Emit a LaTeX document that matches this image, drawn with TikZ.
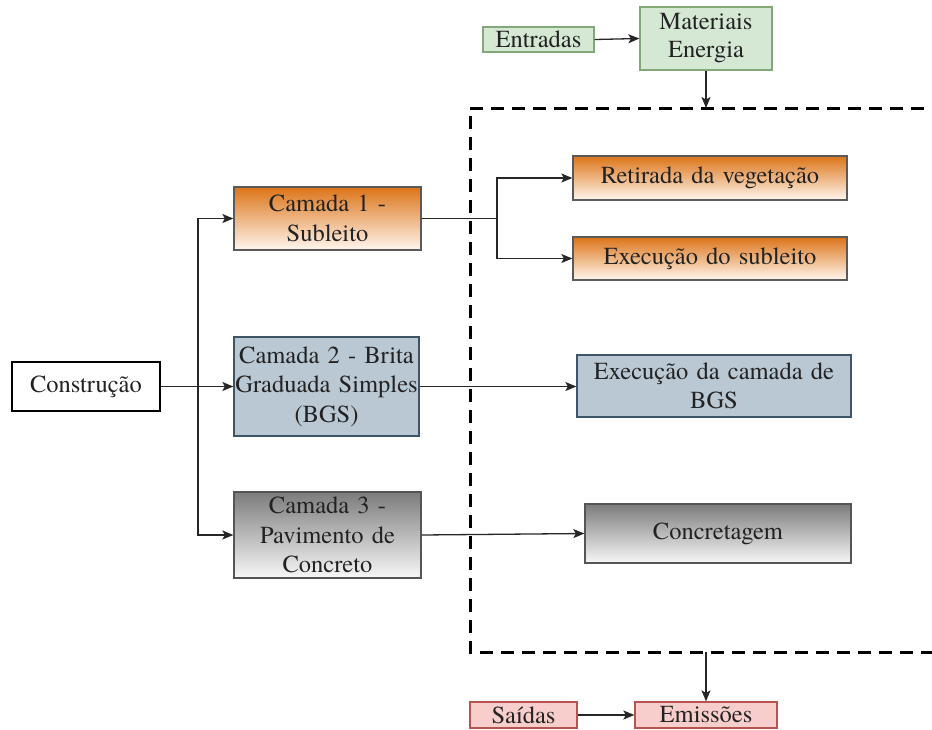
\documentclass[tikz,border=0pt]{standalone}
\usepackage{fontspec}
\setmainfont{texgyretermes}[Extension=.otf, UprightFont=*-regular, BoldFont=*-bold, ItalicFont=*-italic, BoldItalicFont=*-bolditalic]
\usetikzlibrary{arrows.meta}

\definecolor{txt}{HTML}{222222}
\definecolor{grnfill}{HTML}{D5E8D4}
\definecolor{grnline}{HTML}{82A87A}
\definecolor{orgtop}{HTML}{DC7418}
\definecolor{orgbot}{HTML}{FFF6EE}
\definecolor{orgline}{HTML}{5A5A5A}
\definecolor{bluefill}{HTML}{BAC8D3}
\definecolor{blueline}{HTML}{3D5566}
\definecolor{graytop}{HTML}{7C7C7C}
\definecolor{graybot}{HTML}{F7F7F7}
\definecolor{grayline}{HTML}{555555}
\definecolor{pinkfill}{HTML}{F8CECC}
\definecolor{pinkline}{HTML}{B85450}

\tikzset{
  box/.style 2 args={draw, line width=1.3pt, inner sep=0pt, align=center,
    text width=#1pt, minimum height=#2pt, text=txt,
    font=\fontsize{24.5}{29.5}\selectfont},
  greenbox/.style={fill=grnfill, draw=grnline},
  orangebox/.style={top color=orgtop, bottom color=orgbot, draw=orgline},
  bluebox/.style={fill=bluefill, draw=blueline},
  graybox/.style={top color=graytop, bottom color=graybot, draw=grayline},
  pinkbox/.style={fill=pinkfill, draw=pinkline},
  plainbox/.style={fill=white, draw=black},
  conn/.style={line width=1.3pt, draw=black!85},
  arr/.style={conn, -{Stealth[length=11pt, width=9pt, inset=2.5pt]}},
  boundary/.style={line width=3pt, dash pattern=on 13pt off 8pt, draw=black}
}

\begin{document}
\begin{tikzpicture}[x=1pt, y=-1pt]
  \useasboundingbox (0,0) rectangle (932,729);
  \clip (0,0) rectangle (932,729);

  % system boundary (open to the right)
  \draw[boundary] (945,108) -- (470,108) -- (470,652) -- (945,652);
  \coordinate (btop) at (706,108);
  \coordinate (bbot) at (706,652);

  % inputs and outputs
  \node[box={111}{25}, greenbox] (entr) at (538.5,39.5) {Entradas};
  \node[box={132}{63}, greenbox, font=\fontsize{24.5}{28}\selectfont] (mat) at (706,38.5) {Materiais\\Energia};
  \node[box={107}{26}, pinkbox] (sai) at (523.5,715) {Saídas};
  \node[box={142}{26}, pinkbox] (emi) at (706,715) {Emissões};

  % construction stages
  \node[box={148}{49}, plainbox] (cons) at (86,386.5) {Construção};
  \node[box={187}{63}, orangebox] (cam1) at (327.5,218.5) {Camada 1 -\\Subleito};
  \node[box={185}{99}, bluebox] (cam2) at (326.5,386.5) {Camada 2 - Brita\\Graduada Simples\\(BGS)};
  \node[box={187}{86}, graybox] (cam3) at (327.5,535) {Camada 3 -\\Pavimento de\\Concreto};

  % processes inside the boundary
  \node[box={274}{44}, orangebox] (ret) at (710,178) {Retirada da vegetação};
  \node[box={274}{43}, orangebox] (exs) at (710,258.5) {Execução do subleito};
  \node[box={274}{62}, bluebox] (bgs) at (714,386) {Execução da camada de\\BGS};
  \node[box={266}{59}, graybox] (conc) at (718,533.5) {Concretagem};

  % flows in and out of the boundary
  \draw[arr] (entr.east) -- (mat.west);
  \draw[arr] (mat.south) -- (btop);
  \draw[arr] (bbot) -- (emi.north);
  \draw[arr] (sai.east) -- (emi.west);

  % branching from the construction node
  \coordinate (tr) at (198,386.5);
  \draw[arr] (cons.east) -- (cam2.west);
  \draw[arr] (tr) |- (cam1.west);
  \draw[arr] (tr) |- (cam3.west);

  % layer to process connections
  \coordinate (sp) at (497,218.5);
  \draw[conn] (cam1.east) -- (sp);
  \draw[arr] (sp) |- (ret.west);
  \draw[arr] (sp) |- (exs.west);
  \draw[arr] (cam2.east) -- (cam2.east -| bgs.west);
  \draw[arr] (cam3.east) -- (conc.west);
\end{tikzpicture}
\end{document}
